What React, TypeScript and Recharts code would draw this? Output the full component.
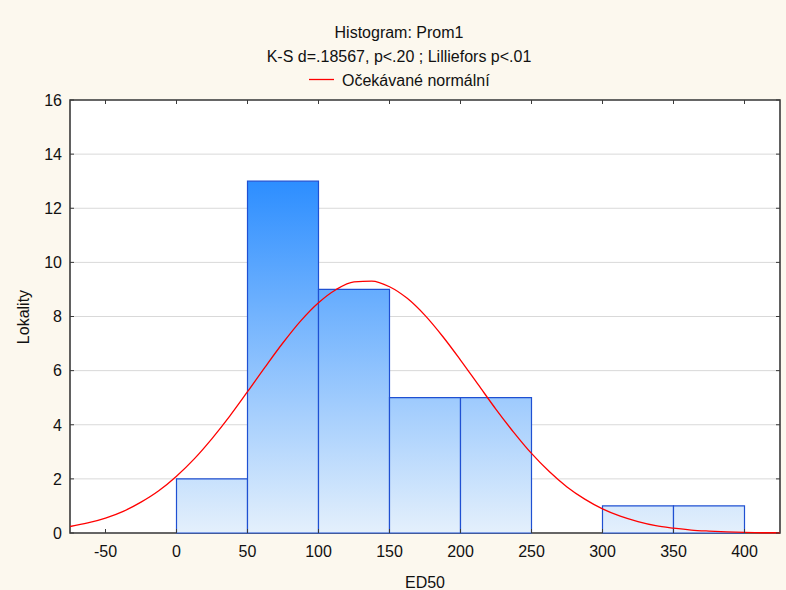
import React from 'react';
import {
  ComposedChart,
  Bar,
  Line,
  XAxis,
  YAxis,
  CartesianGrid,
  ReferenceArea,
} from 'recharts';

// Histogram bins of ED50 (bin centres, width 50) and their counts
const binMids = [25, 75, 125, 175, 225, 275, 325, 375];
const binCounts = [2, 13, 9, 5, 5, 0, 1, 1];

// Axis ticks
const xTicks = [-50, 0, 50, 100, 150, 200, 250, 300, 350, 400];
const yTicks = [0, 2, 4, 6, 8, 10, 12, 14, 16];

// Expected normal curve, sampled every 12.5 units of ED50
const curveX = [
  -75, -62.5, -50, -37.5, -25, -12.5, 0, 12.5, 25, 37.5, 50, 62.5, 75, 87.5,
  100, 112.5, 125, 137.5, 150, 162.5, 175, 187.5, 200, 212.5, 225, 237.5, 250,
  262.5, 275, 287.5, 300, 312.5, 325, 337.5, 350, 362.5, 375, 387.5, 400,
  412.5, 425,
];
const curveY = [
  0.24, 0.37, 0.55, 0.8, 1.14, 1.56, 2.1, 2.74, 3.49, 4.32, 5.22, 6.14, 7.03,
  7.84, 8.51, 9.0, 9.28, 9.31, 9.1, 8.67, 8.04, 7.26, 6.39, 5.48, 4.57, 3.72,
  2.94, 2.27, 1.7, 1.25, 0.89, 0.62, 0.42, 0.27, 0.18, 0.11, 0.07, 0.04, 0.02,
  0.01, 0.01,
];

const bins = binMids.map((mid, i) => ({ mid, count: binCounts[i] }));
const curve = curveX.map((x, i) => ({ x, y: curveY[i] }));

const FONT = '"Liberation Sans", Arial, sans-serif';
const FS = 16;
const W = 786;
const H = 590;
const PLOT_LEFT = 70;
const PLOT_RIGHT = 780;
const PLOT_TOP = 100;
const PLOT_BOTTOM = 533;
const FRAME = '#3a3a3a';
const TEXT = '#111';

// Bottom axis tick: inward marks on the bottom and top frame edges plus label
const XTick = (props: any) => {
  const { x, payload } = props;
  return (
    <g>
      <line x1={x} y1={PLOT_BOTTOM} x2={x} y2={PLOT_BOTTOM - 4} stroke={FRAME} />
      <line x1={x} y1={PLOT_TOP} x2={x} y2={PLOT_TOP + 4} stroke={FRAME} />
      <text
        x={x}
        y={PLOT_BOTTOM + 24}
        textAnchor="middle"
        fontSize={FS}
        fill={TEXT}
        fontFamily={FONT}
      >
        {payload.value}
      </text>
    </g>
  );
};

// Left axis tick: inward marks on the left and right frame edges plus label
const YTick = (props: any) => {
  const { y, payload } = props;
  return (
    <g>
      <line x1={PLOT_LEFT} y1={y} x2={PLOT_LEFT + 4} y2={y} stroke={FRAME} />
      <line x1={PLOT_RIGHT - 4} y1={y} x2={PLOT_RIGHT} y2={y} stroke={FRAME} />
      <text
        x={PLOT_LEFT - 8}
        y={y + 5.8}
        textAnchor="end"
        fontSize={FS}
        fill={TEXT}
        fontFamily={FONT}
      >
        {payload.value}
      </text>
    </g>
  );
};

export default function App() {
  return (
    <div
      style={{
        position: 'absolute',
        left: 0,
        top: 0,
        width: W,
        height: H,
        background: '#fcf8ee',
        overflow: 'hidden',
      }}
    >
      <ComposedChart
        width={W}
        height={H}
        data={bins}
        margin={{ top: PLOT_TOP, right: W - PLOT_RIGHT, bottom: 0, left: 0 }}
        barCategoryGap={0}
        barGap={0}
      >
        <defs>
          <linearGradient
            id="binFill"
            gradientUnits="userSpaceOnUse"
            x1="0"
            y1="182"
            x2="0"
            y2={PLOT_BOTTOM}
          >
            <stop offset="0" stopColor="#2d8eff" />
            <stop offset="1" stopColor="#e4f0fc" />
          </linearGradient>
        </defs>
        <CartesianGrid
          vertical={false}
          stroke="#d9d9d9"
          fill="#ffffff"
          xAxisId="x"
        />
        <XAxis
          xAxisId="x"
          dataKey="mid"
          type="number"
          domain={[-75, 425]}
          ticks={xTicks}
          interval={0}
          allowDataOverflow
          height={H - PLOT_BOTTOM}
          axisLine={false}
          tickLine={false}
          tickSize={0}
          tickMargin={0}
          tick={<XTick />}
        />
        <XAxis
          xAxisId="c"
          dataKey="x"
          type="number"
          domain={[-75, 425]}
          allowDataOverflow
          hide
        />
        <YAxis
          type="number"
          domain={[0, 16]}
          ticks={yTicks}
          interval={0}
          width={PLOT_LEFT}
          axisLine={false}
          tickLine={false}
          tickSize={0}
          tickMargin={0}
          tick={<YTick />}
        />
        <Bar
          xAxisId="x"
          dataKey="count"
          fill="url(#binFill)"
          stroke="#1f50d2"
          strokeWidth={1.2}
          isAnimationActive={false}
        />
        <Line
          xAxisId="c"
          data={curve}
          dataKey="y"
          type="monotone"
          stroke="#ff0000"
          strokeWidth={1.3}
          dot={false}
          activeDot={false}
          isAnimationActive={false}
        />
        <ReferenceArea
          xAxisId="x"
          x1={-75}
          x2={425}
          y1={0}
          y2={16}
          fill="none"
          fillOpacity={0}
          stroke={FRAME}
          strokeWidth={1.6}
        />
      </ComposedChart>
      <svg
        width={W}
        height={H}
        style={{ position: 'absolute', left: 0, top: 0, pointerEvents: 'none' }}
        fontFamily={FONT}
        fontSize={FS}
        fill={TEXT}
      >
        <text x={399} y={37.5} textAnchor="middle">
          Histogram: Prom1
        </text>
        <text x={399} y={61.5} textAnchor="middle">
          K-S d=.18567, p&lt;.20 ; Lilliefors p&lt;.01
        </text>
        <line x1={309} y1={79.5} x2={334} y2={79.5} stroke="#ff0000" strokeWidth={1.3} />
        <text x={342} y={86}>
          Očekávané normální
        </text>
        <text x={425} y={588} textAnchor="middle">
          ED50
        </text>
        <text
          x={28.5}
          y={317}
          textAnchor="middle"
          transform="rotate(-90 28.5 317)"
        >
          Lokality
        </text>
      </svg>
    </div>
  );
}
